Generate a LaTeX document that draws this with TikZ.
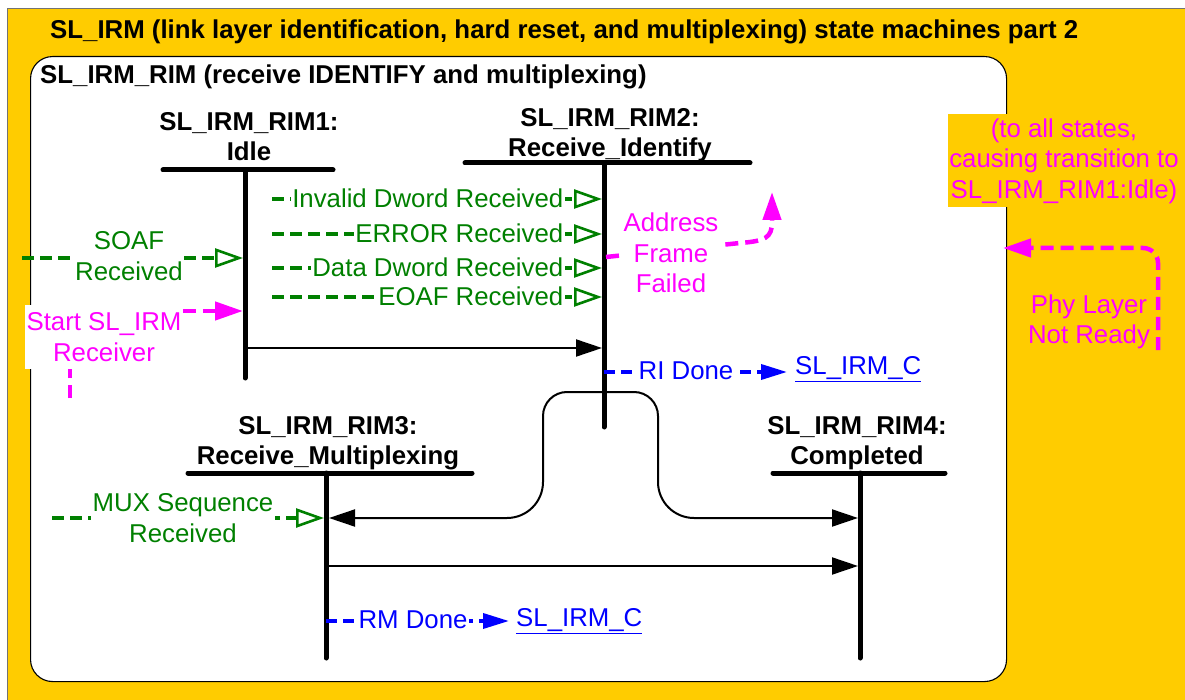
\documentclass[tikz,border=0pt]{standalone}
\usepackage{fontspec}
\setmainfont{Liberation Sans}
\usetikzlibrary{arrows.meta}
\definecolor{irmyellow}{RGB}{255,204,0}
\definecolor{evgreen}{RGB}{0,128,0}
\definecolor{magent}{RGB}{255,0,255}
\definecolor{lnkblue}{RGB}{0,0,255}
\begin{document}
\begin{tikzpicture}[x=1pt,y=-1pt,
  every node/.style={inner sep=0pt, font=\fontsize{25.8}{30.5}\selectfont},
  boldtxt/.style={font=\fontsize{25.8}{30.5}\selectfont\bfseries},
  statelabel/.style={boldtxt, align=center, anchor=south, text depth=0pt},
  bar/.style={line width=5pt, line cap=round},
  trans/.style={line width=2pt, -{Triangle[length=26pt,width=17pt]}},
  evline/.style={evgreen, line width=3.6pt, dash pattern=on 12pt off 6pt, -{Triangle[open,length=28pt,width=19pt,line width=2.6pt]}},
  evtext/.style={text=evgreen, fill=white, inner sep=1.5pt, align=center},
  evtextone/.style={evtext, text height=18pt, text depth=0pt},
  mgline/.style={magent, line width=4.5pt, dash pattern=on 13pt off 7pt, -{Triangle[length=28pt,width=18pt]}},
  mgtext/.style={text=magent, align=center},
  blline/.style={lnkblue, line width=3.6pt, dash pattern=on 11pt off 6pt, -{Triangle[length=26pt,width=15pt]}},
  bltext/.style={text=lnkblue, fill=white, inner sep=1.5pt, text height=18pt, text depth=0pt},
  link/.style={text=lnkblue, anchor=west},
]
\useasboundingbox (0,0) rectangle (1185,700);
\fill[white] (0,0) rectangle (1185,700);
\draw[fill=irmyellow, draw=black!55, line width=1pt] (7,9) rectangle (1195,710);

\node[boldtxt, anchor=base west] (title) at (50,39) {SL\_IRM (link layer identification, hard reset, and multiplexing) state machines part 2};

\node[draw, fill=white, line width=1.1pt, rounded corners=22pt, minimum width=976pt, minimum height=625pt, anchor=north west] (rim) at (30,56) {};
\node[boldtxt, anchor=base west] (subtitle) at (40,84) {SL\_IRM\_RIM (receive IDENTIFY and multiplexing)};

% states
\coordinate (r1a) at (163,170); \coordinate (r1b) at (333,170);
\coordinate (r1t) at (245,170); \coordinate (r1e) at (245,378);
\coordinate (r2a) at (465,163); \coordinate (r2b) at (750,163);
\coordinate (r2t) at (604,163); \coordinate (r2e) at (604,427);
\coordinate (r3a) at (188,473); \coordinate (r3b) at (472,473);
\coordinate (r3t) at (326,473); \coordinate (r3e) at (326,658);
\coordinate (r4a) at (773,473); \coordinate (r4b) at (945,473);
\coordinate (r4t) at (860,473); \coordinate (r4e) at (860,658);
\draw[bar] (r1a) -- (r1b); \draw[bar] (r1t) -- (r1e);
\draw[bar] (r2a) -- (r2b); \draw[bar] (r2t) -- (r2e);
\draw[bar] (r3a) -- (r3b); \draw[bar] (r3t) -- (r3e);
\draw[bar] (r4a) -- (r4b); \draw[bar] (r4t) -- (r4e);
\node[statelabel] (r1lab) at (249,161) {SL\_IRM\_RIM1:\\Idle};
\node[statelabel] (r2lab) at (610,157) {SL\_IRM\_RIM2:\\Receive\_Identify};
\node[statelabel] (r3lab) at (328,465) {SL\_IRM\_RIM3:\\Receive\_Multiplexing};
\node[statelabel] (r4lab) at (857,465) {SL\_IRM\_RIM4:\\Completed};

% black transitions
\coordinate (t12a) at (245,348); \coordinate (t12b) at (602,348);
\draw[trans] (t12a) -- (t12b);
\coordinate (bump) at (604,392);
\coordinate (t23) at (329,518); \coordinate (t24) at (858,518);
\draw[trans] (bump) [rounded corners=24pt] -- (543,392) [rounded corners=36pt] -- (543,518) [sharp corners] -- (t23);
\draw[trans] (bump) [rounded corners=24pt] -- (658,392) [rounded corners=36pt] -- (658,518) [sharp corners] -- (t24);
\coordinate (t34a) at (326,566); \coordinate (t34b) at (858,566);
\draw[trans] (t34a) -- (t34b);

% green events
\coordinate (soafs) at (22,258); \coordinate (soafe) at (243,258);
\draw[evline] (soafs) -- (soafe);
\node[evtext] (soaf) at (129,256) {SOAF\\Received};
\coordinate (e1s) at (272,199); \coordinate (e1e) at (602,199);
\coordinate (e2s) at (272,234); \coordinate (e2e) at (602,234);
\coordinate (e3s) at (272,268); \coordinate (e3e) at (602,268);
\coordinate (e4s) at (272,297); \coordinate (e4e) at (602,297);
\draw[evline] (e1s) -- (e1e); \draw[evline] (e2s) -- (e2e);
\draw[evline] (e3s) -- (e3e); \draw[evline] (e4s) -- (e4e);
\node[evtextone, anchor=east] (ev1) at (565,199) {Invalid Dword Received};
\node[evtextone, anchor=east] (ev2) at (565,234) {ERROR Received};
\node[evtextone, anchor=east] (ev3) at (565,268) {Data Dword Received};
\node[evtextone, anchor=east] (ev4) at (565,297) {EOAF Received};
\coordinate (muxs) at (52,518); \coordinate (muxe) at (324,518);
\draw[evline] (muxs) -- (muxe);
\node[evtext] (mux) at (183,518) {MUX Sequence\\Received};

% magenta
\coordinate (sts) at (70,398); \coordinate (ste) at (243,311);
\draw[mgline] (sts) |- (ste);
\node[mgtext, fill=white, inner sep=2pt, minimum width=158pt, minimum height=63pt] (start) at (104,337) {Start SL\_IRM\\Receiver};
\coordinate (afs) at (606,257); \coordinate (afe) at (772,192);
\draw[mgline] (afs) -- (740,243) .. controls (765,241) and (772,238) .. (772,222) -- (afe);
\node[mgtext, fill=white, inner sep=2pt] (aff) at (671,253) {Address\\Frame\\Failed};
\coordinate (phys) at (1158,350); \coordinate (phye) at (1003,248);
\draw[mgline, rounded corners=15pt] (phys) |- (phye);
\node[mgtext] (phy) at (1089,322) {Phy Layer\\Not Ready};
\node[mgtext, fill=irmyellow, minimum width=232pt, minimum height=93pt] (toall) at (1064,161) {(to all states,\\causing transition to\\SL\_IRM\_RIM1:Idle)};

% blue
\coordinate (ris) at (604,372); \coordinate (rie) at (787,372);
\draw[blline] (ris) -- (rie);
\node[bltext] (ri) at (686,370) {RI Done};
\node[link] (slc1) at (795,369) {\underline{SL\_IRM\_C}};
\coordinate (rms) at (326,621); \coordinate (rme) at (509,621);
\draw[blline] (rms) -- (rme);
\node[bltext] (rm) at (413,619) {RM Done};
\node[link] (slc2) at (516,621) {\underline{SL\_IRM\_C}};
\end{tikzpicture}
\end{document}
